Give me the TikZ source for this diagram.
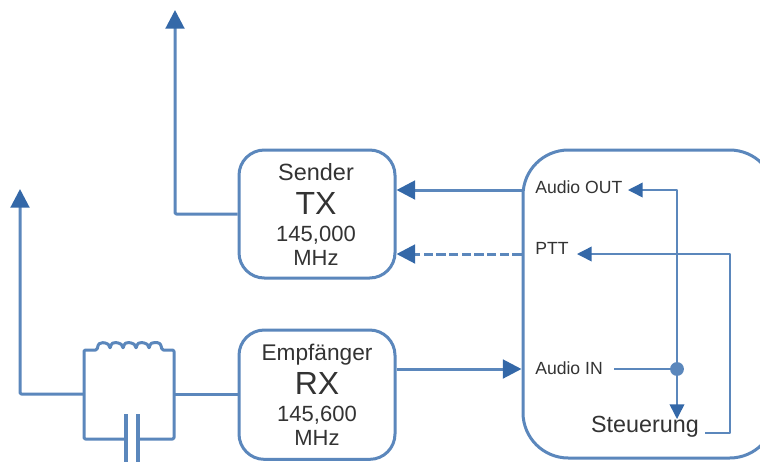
\documentclass[tikz,border=0pt]{standalone}
\usepackage{fontspec}
\setmainfont{Liberation Sans}
\usetikzlibrary{arrows.meta}
\definecolor{wire}{HTML}{5B87BC}
\definecolor{tip}{HTML}{3468A8}
\definecolor{ink}{HTML}{333333}
\newcommand{\fs}[2]{\fontsize{#1}{#2}\selectfont}
\tikzset{
  x=0.75pt,y=-0.75pt,
  thick line/.style={draw=wire,line width=2.25pt,line join=round},
  thin line/.style={draw=wire,line width=1.1pt,line join=round},
  big tip/.style={-{Triangle[length=14pt,width=14pt,color=tip]}},
  small tip/.style={-{Triangle[length=11pt,width=11pt,color=tip]}},
  box/.style={thick line,rounded corners=19pt,minimum width=117pt,inner sep=0pt,anchor=north west},
  lab/.style={text=ink,inner sep=0pt,anchor=west,font=\fs{13.2}{15}},
  blockline/.style={text=ink,inner sep=0pt,anchor=base},
}
\begin{document}
\begin{tikzpicture}
\useasboundingbox (0,0) rectangle (760,462);
\clip (0,0) rectangle (760,462);
\fill[white] (0,0) rectangle (760,462);
% blocks
\node[box,minimum height=96pt] (tx) at (237.5,148.5) {};
\node[blockline,font=\fs{17.6}{21}] (txa) at (316,180) {Sender};
\node[blockline,font=\fs{24}{28}] (txb) at (316,214) {TX};
\node[blockline,font=\fs{16.5}{20}] (txc) at (316,241) {145,000};
\node[blockline,font=\fs{16.5}{20}] (txd) at (316,265) {MHz};
\node[box,minimum height=97pt] (rx) at (237.5,328.5) {};
\node[blockline,font=\fs{17}{21}] (rxa) at (317,360) {Empfänger};
\node[blockline,font=\fs{24}{28}] (rxb) at (317,394) {RX};
\node[blockline,font=\fs{16.5}{20}] (rxc) at (317,421) {145,600};
\node[blockline,font=\fs{16.5}{20}] (rxd) at (317,445) {MHz};
\node[thick line,rounded corners=34pt,minimum width=189pt,minimum height=231pt,inner sep=0pt,anchor=north west] (main) at (521.5,148.5) {};
% labels in main
\node[lab] (aout) at (535,187) {Audio OUT};
\node[lab] (ptt) at (535,248) {PTT};
\node[lab] (ain) at (535,368) {Audio IN};
\node[text=ink,inner sep=0pt,anchor=center,font=\fs{17.5}{20}] (st) at (645,427) {Steuerung};
% antenna feeds
\coordinate (ant1) at (175,10);
\coordinate (ant2) at (20,189);
\coordinate (lcl) at (84,394);
\coordinate (lcr) at (174,394);
\draw[thick line,big tip,rounded corners=1pt] (tx.west |- 0,214) -| (ant1);
\draw[thick line,big tip,rounded corners=1pt] (lcl) -| (ant2);
\draw[thick line] (lcr) -- (rx.west |- lcr);
% LC circuit
\draw[thick line,rounded corners=1pt] (125.5,439) -| (84,350) -- (97,350)
  .. controls (98,344) and (100,342) .. (104,343)
  .. controls (107,343) and (110,345) .. (110,349)
  .. controls (111,343) and (114,342) .. (117,343)
  .. controls (120,343) and (123,345) .. (123,349)
  .. controls (124,343) and (127,342) .. (130,343)
  .. controls (133,343) and (136,345) .. (136,349)
  .. controls (137,343) and (140,342) .. (143,343)
  .. controls (146,343) and (149,345) .. (149,349)
  .. controls (150,343) and (153,342) .. (156,343)
  .. controls (159,342) and (161,344) .. (162,350)
  -- (174,350) |- (138,439);
\draw[draw=wire,line width=3pt] (125.5,414) -- (125.5,462);
\draw[draw=wire,line width=3pt] (138,414) -- (138,462);
% block connections
\coordinate (m1) at (main.west |- 0,190);
\coordinate (m2) at (main.west |- 0,254);
\coordinate (m3) at (main.west |- 0,369);
\draw[thick line,big tip] (m1) -- (tx.east |- m1);
\draw[thick line,big tip,dash pattern=on 7pt off 2.5pt] (m2) -- (tx.east |- m2);
\draw[thick line,big tip] (rx.east |- m3) -- (m3);
% inner wiring
\coordinate (dot) at (677,369);
\coordinate (aoutend) at (628,190);
\coordinate (pttend) at (577,254);
\coordinate (stin) at (677,419);
\draw[thin line,small tip] (dot) |- (aoutend);
\draw[thin line] (614,369) -- (dot);
\draw[thin line,small tip] (dot) -- (stin);
\draw[thin line,small tip] (705,433) -| (730,254) -- (pttend);
\fill[wire] (dot) circle (5.2pt);
\end{tikzpicture}
\end{document}
